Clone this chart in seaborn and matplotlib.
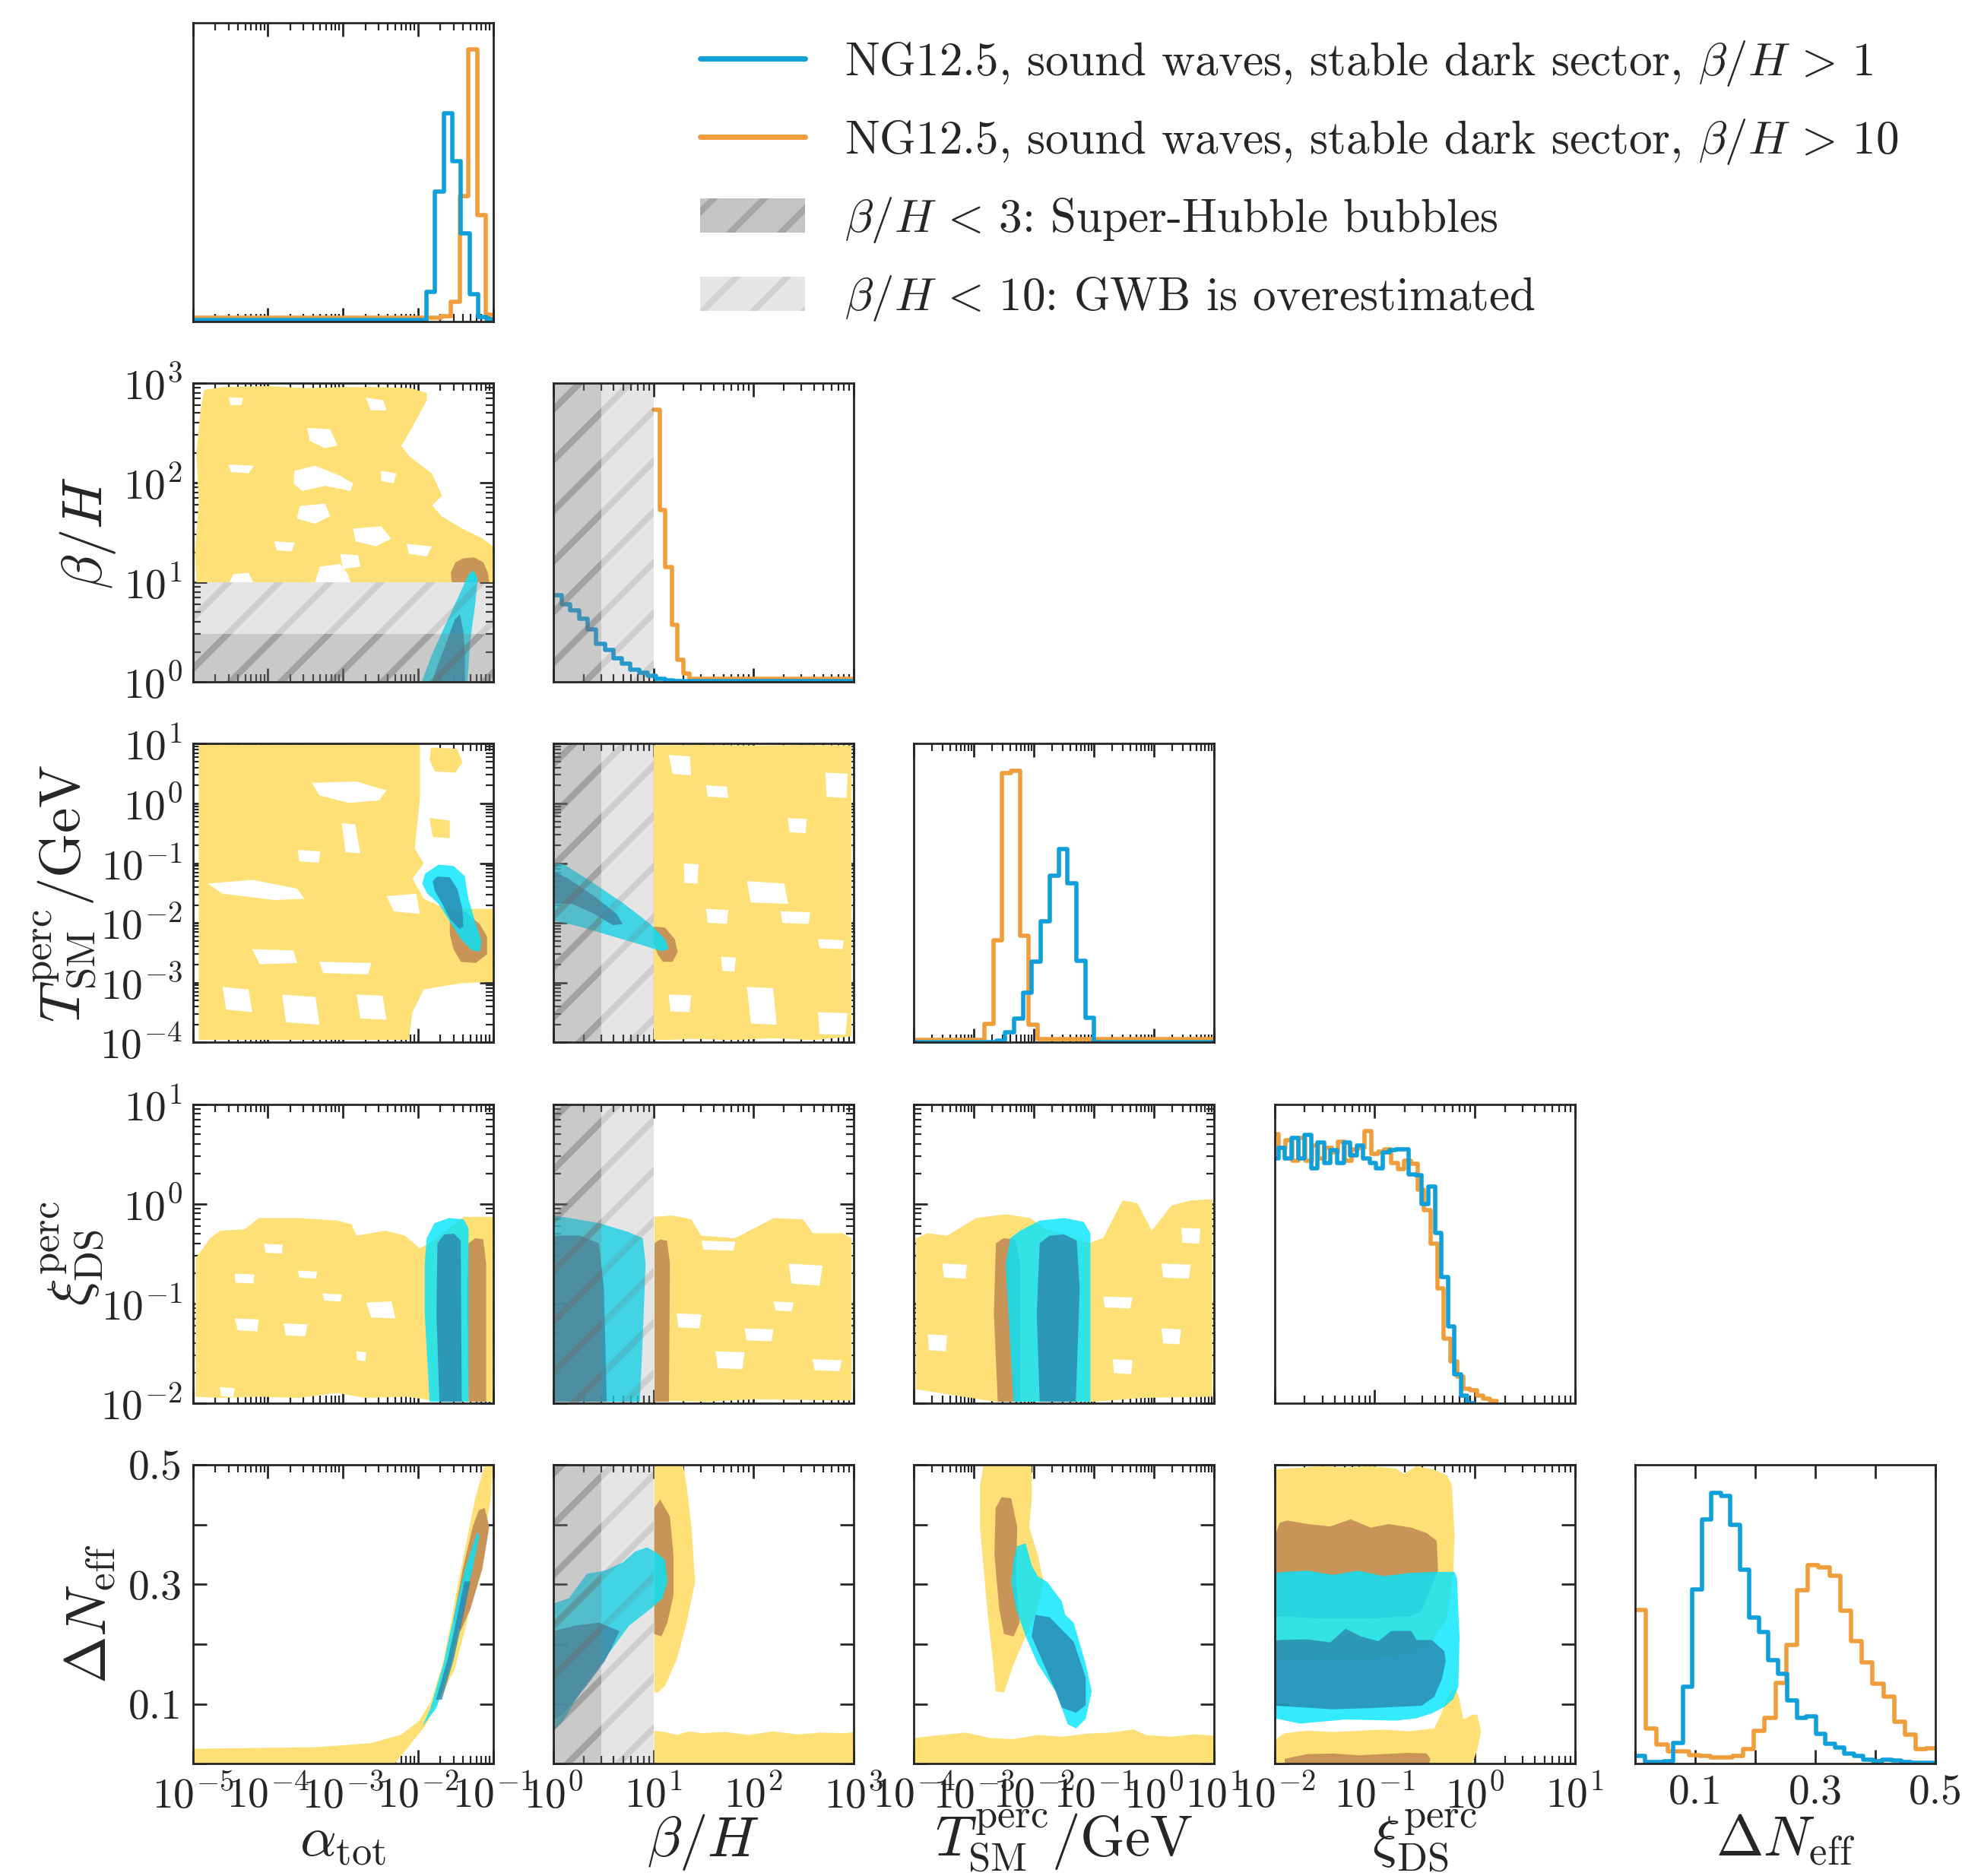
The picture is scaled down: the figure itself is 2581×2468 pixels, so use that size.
import numpy as np
import pandas as pd
import matplotlib
matplotlib.use("Agg")
import matplotlib.pyplot as plt
import seaborn as sns
from matplotlib import ticker
from matplotlib.lines import Line2D
from matplotlib.patches import Patch

# ---------------- 1D histograms (log10 edges for log axes) ----------------
alpha_edges_blue = [-5.0, -1.886, -1.771, -1.656, -1.542, -1.427, -1.312, -1.197, -1.083, -1.0]
alpha_hist_blue = [0.004, 0.099, 0.433, 0.695, 0.536, 0.293, 0.090, 0.014, 0.006]
alpha_edges_orange = [-5.0, -1.693, -1.565, -1.444, -1.326, -1.207, -1.093, -1.0]
alpha_hist_orange = [0.011, 0.017, 0.065, 0.420, 0.911, 0.354, 0.021]

beta_edges_blue = [0.0, 0.086, 0.171, 0.257, 0.343, 0.429, 0.514, 0.6, 0.686, 0.771,
                   0.857, 0.943, 1.029, 1.114, 1.2, 3.0]
beta_hist_blue = [0.29, 0.26, 0.24, 0.21, 0.175, 0.126, 0.108, 0.08, 0.06, 0.04,
                  0.03, 0.02, 0.01, 0.005, 0.002]
beta_edges_orange = [1.0, 1.061, 1.121, 1.182, 1.242, 1.303, 1.364, 3.0]
beta_hist_orange = [0.91, 0.574, 0.383, 0.19, 0.075, 0.027, 0.01]

T_edges_orange = [-4.0, -2.827, -2.679, -2.531, -2.383, -2.235, -2.087, -1.939, 1.0]
T_hist_orange = [0.008, 0.061, 0.343, 0.902, 0.910, 0.358, 0.060, 0.010]
T_edges_blue = [-4.0, -2.628, -2.48, -2.332, -2.184, -2.036, -1.888, -1.74, -1.592,
                -1.444, -1.296, -1.148, -1.0, 1.0]
T_hist_blue = [0.002, 0.006, 0.034, 0.08, 0.167, 0.27, 0.405, 0.558, 0.647, 0.532,
               0.273, 0.082, 0.002]

xi_edges_blue = [-0.659 + 0.0651 * (k - 21) for k in range(32)]
xi_hist_blue = [0.82, 0.855, 0.82, 0.888, 0.82, 0.897, 0.787, 0.871, 0.804, 0.846, 0.804,
                0.871, 0.829, 0.863, 0.82, 0.804, 0.787, 0.838, 0.846, 0.85, 0.85,
                0.766, 0.762, 0.665, 0.724, 0.569, 0.421, 0.256, 0.095, 0.025, 0.0]
xi_edges_orange = [-0.705 + 0.0659 * (k - 20) for k in range(35)]
xi_hist_orange = [0.90, 0.855, 0.88, 0.81, 0.888, 0.81, 0.862, 0.82, 0.855, 0.838, 0.876,
                  0.81, 0.85, 0.855, 0.91, 0.833, 0.842, 0.85, 0.804, 0.783,
                  0.811, 0.80, 0.715, 0.645, 0.533, 0.383, 0.216, 0.14, 0.089, 0.047,
                  0.042, 0.025, 0.015, 0.006]

dN_edges_blue = [0.01582 * k for k in range(33)]
dN_hist_blue = [0.025, 0.006, 0.006, 0.008, 0.068, 0.257, 0.582, 0.817, 0.907, 0.896,
                0.799, 0.65, 0.489, 0.441, 0.346, 0.30, 0.211, 0.152, 0.158, 0.099,
                0.066, 0.055, 0.034, 0.027, 0.014, 0.008, 0.014, 0.010, 0.006, 0.004,
                0.004, 0.004]
dN_edges_orange = [0.01797 * k for k in range(29)]
dN_hist_orange = [0.515, 0.118, 0.065, 0.042, 0.040, 0.028, 0.025, 0.021, 0.021, 0.025,
                  0.048, 0.11, 0.152, 0.27, 0.397, 0.58, 0.664, 0.658, 0.63, 0.512,
                  0.409, 0.339, 0.268, 0.225, 0.141, 0.097, 0.049, 0.052]

# ---------------- 2D credible regions (x, y), log10 for log axes ----------------
# alpha vs beta/H
alpha_beta_yellow = [(-4.95, 1.0), (-4.97, 1.3), (-4.92, 1.8), (-4.95, 2.3), (-4.9, 2.7), (-4.85, 2.93),
                     (-4.6, 2.96), (-4.0, 2.97), (-3.5, 2.95), (-3.0, 2.96), (-2.5, 2.96), (-2.1, 2.95),
                     (-1.88, 2.9), (-1.88, 2.83), (-2.08, 2.55), (-2.22, 2.37), (-2.12, 2.27), (-1.81, 2.09),
                     (-1.68, 1.87), (-1.81, 1.77), (-1.68, 1.66), (-1.41, 1.54), (-1.14, 1.44), (-1.0, 1.36),
                     (-1.0, 1.0)]
alpha_beta_holes = [
    [(-4.52, 2.86), (-4.33, 2.85), (-4.35, 2.78), (-4.50, 2.78)],
    [(-3.475, 2.55), (-3.17, 2.537), (-3.07, 2.373), (-3.24, 2.347), (-3.44, 2.42)],
    [(-2.695, 2.853), (-2.46, 2.83), (-2.42, 2.727), (-2.63, 2.727)],
    [(-3.644, 2.12), (-3.373, 2.17), (-3.034, 2.069), (-2.864, 1.993), (-2.898, 1.917), (-3.237, 1.968),
     (-3.542, 1.917), (-3.658, 1.993)],
    [(-3.576, 1.765), (-3.237, 1.79), (-3.169, 1.664), (-3.373, 1.588), (-3.61, 1.639)],
    [(-4.525, 2.183), (-4.186, 2.17), (-4.254, 2.094), (-4.492, 2.107)],
    [(-2.864, 1.538), (-2.49, 1.563), (-2.356, 1.437), (-2.559, 1.36), (-2.83, 1.411)],
    [(-3.915, 1.411), (-3.644, 1.398), (-3.678, 1.31), (-3.881, 1.322)],
    [(-3.034, 1.285), (-2.797, 1.272), (-2.763, 1.158), (-3.0, 1.133)],
    [(-2.152, 1.386), (-1.813, 1.36), (-1.881, 1.259), (-2.118, 1.285)],
    [(-2.49, 2.12), (-2.288, 2.094), (-2.322, 1.993), (-2.49, 2.018)],
    [(-3.373, 0.99), (-3.305, 1.158), (-3.034, 1.183), (-2.932, 1.082), (-2.898, 0.99)],
    [(-4.52, 0.99), (-4.458, 1.082), (-4.254, 1.095), (-4.186, 0.99)],
]
alpha_beta_brown = [(-1.55, 1.0), (-1.56, 1.1), (-1.5, 1.2), (-1.4, 1.24), (-1.25, 1.25), (-1.13, 1.2),
                    (-1.07, 1.1), (-1.05, 1.0)]
alpha_beta_cyan = [(-1.949, 0.0), (-1.915, 0.07), (-1.814, 0.273), (-1.678, 0.5), (-1.475, 0.829),
                   (-1.325, 1.082), (-1.258, 1.12), (-1.203, 1.032), (-1.237, 0.779), (-1.305, 0.4),
                   (-1.339, 0.0)]
alpha_beta_dark = [(-1.814, 0.0), (-1.746, 0.146), (-1.644, 0.349), (-1.508, 0.627), (-1.44, 0.678),
                   (-1.393, 0.5), (-1.373, 0.273), (-1.373, 0.0)]

# alpha vs T
alpha_T_yellow = [(-4.92, -3.957), (-4.92, 0.979), (-1.973, 0.987), (-1.973, 0.093), (-2.042, -0.751),
                  (-1.923, -1.004), (-2.072, -1.257), (-1.923, -1.595), (-1.625, -1.763), (-1.0, -1.763),
                  (-1.0, -2.987), (-1.427, -3.008), (-1.923, -3.113), (-2.072, -3.493), (-2.121, -3.957)]
alpha_T_extra = [
    [(-1.824, 0.937), (-1.476, 0.916), (-1.407, 0.684), (-1.506, 0.515), (-1.774, 0.536), (-1.844, 0.726)],
    [(-1.844, -0.245), (-1.576, -0.287), (-1.576, -0.582), (-1.804, -0.561)],
]
alpha_T_holes = [
    [(-3.412, 0.346), (-2.816, 0.367), (-2.419, 0.219), (-2.518, 0.051), (-2.915, 0.008), (-3.312, 0.135)],
    [(-3.015, -0.329), (-2.836, -0.35), (-2.767, -0.835), (-2.965, -0.814)],
    [(-4.801, -1.342), (-4.206, -1.278), (-3.61, -1.426), (-3.511, -1.595), (-3.908, -1.616), (-4.603, -1.511)],
    [(-2.419, -1.553), (-2.022, -1.51), (-1.973, -1.848), (-2.32, -1.806)],
    [(-4.206, -2.438), (-3.66, -2.46), (-3.61, -2.67), (-4.107, -2.692)],
    [(-3.313, -2.65), (-2.618, -2.67), (-2.667, -2.86), (-3.263, -2.839)],
    [(-4.603, -3.071), (-4.256, -3.113), (-4.206, -3.493), (-4.553, -3.451)],
    [(-3.809, -3.198), (-3.362, -3.24), (-3.313, -3.704), (-3.759, -3.662)],
    [(-2.816, -3.198), (-2.469, -3.219), (-2.419, -3.62), (-2.767, -3.599)],
    [(-3.6, -0.78), (-3.3, -0.8), (-3.32, -0.99), (-3.58, -0.97)],
]
alpha_T_brown = [(-1.575, -1.848), (-1.377, -1.806), (-1.179, -2.017), (-1.079, -2.228), (-1.079, -2.523),
                 (-1.228, -2.671), (-1.427, -2.65), (-1.526, -2.439), (-1.575, -2.186)]
alpha_T_cyan = [(-1.724, -1.025), (-1.526, -1.046), (-1.377, -1.215), (-1.327, -1.595), (-1.228, -2.017),
                (-1.149, -2.312), (-1.179, -2.481), (-1.278, -2.46), (-1.427, -2.27), (-1.575, -1.974),
                (-1.724, -1.679), (-1.873, -1.51), (-1.943, -1.342), (-1.903, -1.173)]
alpha_T_dark = [(-1.744, -1.223), (-1.575, -1.236), (-1.476, -1.426), (-1.407, -1.763), (-1.397, -2.059),
                (-1.447, -2.101), (-1.575, -1.932), (-1.675, -1.679), (-1.774, -1.468), (-1.804, -1.299)]

# beta/H vs T
beta_T_yellow = [(1.0, -3.95), (1.0, 0.975), (1.5, 0.98), (2.0, 0.97), (2.5, 0.98), (2.98, 0.97),
                 (2.98, -3.9), (2.6, -3.96), (2.2, -3.93), (1.8, -3.96), (1.4, -3.94), (1.1, -3.96)]
beta_T_holes = [
    [(1.154, 0.81), (1.362, 0.789), (1.377, 0.473), (1.191, 0.494)],
    [(1.526, 0.304), (1.734, 0.283), (1.749, 0.093), (1.541, 0.114)],
    [(1.935, -1.299), (2.308, -1.342), (2.345, -1.679), (1.973, -1.658)],
    [(1.526, -1.763), (1.749, -1.785), (1.734, -2.017), (1.541, -1.996)],
    [(2.643, -2.27), (2.903, -2.29), (2.89, -2.438), (2.66, -2.42)],
    [(1.935, -3.071), (2.196, -3.092), (2.233, -3.704), (1.973, -3.683)],
    [(1.154, -3.198), (1.377, -3.21), (1.36, -3.493), (1.17, -3.48)],
    [(2.643, -3.493), (2.94, -3.51), (2.92, -3.873), (2.66, -3.86)],
    [(2.27, -1.806), (2.568, -1.82), (2.55, -2.017), (2.29, -2.0)],
    [(2.717, 0.515), (2.94, 0.5), (2.93, 0.093), (2.73, 0.11)],
    [(2.345, -0.245), (2.531, -0.26), (2.52, -0.498), (2.36, -0.48)],
    [(1.303, -1.004), (1.452, -1.02), (1.44, -1.342), (1.31, -1.33)],
    [(1.675, -2.565), (1.824, -2.58), (1.81, -2.818), (1.69, -2.80)],
]
beta_T_brown = [(1.005, -2.059), (1.117, -2.08), (1.213, -2.27), (1.243, -2.481), (1.191, -2.65),
                (1.094, -2.65), (1.042, -2.523), (1.005, -2.354)]
beta_T_cyan = [(0.0, -0.983), (0.112, -1.025), (0.409, -1.342), (0.707, -1.679), (0.968, -2.017),
               (1.117, -2.27), (1.154, -2.439), (1.079, -2.473), (0.856, -2.354), (0.558, -2.207),
               (0.261, -2.059), (0.037, -1.974), (0.0, -1.974)]
beta_T_dark = [(0.0, -1.131), (0.149, -1.257), (0.409, -1.553), (0.633, -1.848), (0.692, -2.017),
               (0.596, -2.038), (0.409, -1.848), (0.186, -1.679), (0.0, -1.679)]

# alpha vs xi
alpha_xi_yellow = [(-4.961, -1.936), (-4.961, -0.547), (-4.766, -0.344), (-4.636, -0.269), (-4.312, -0.256),
                   (-4.117, -0.142), (-3.597, -0.142), (-3.078, -0.167), (-2.883, -0.205), (-2.818, -0.319),
                   (-2.429, -0.269), (-2.169, -0.319), (-1.974, -0.446), (-1.844, -0.395), (-1.39, -0.13),
                   (-1.0, -0.13), (-1.0, -1.987), (-1.649, -1.987), (-2.169, -1.936), (-2.688, -1.949),
                   (-3.078, -1.899), (-3.597, -1.949), (-4.117, -1.936), (-4.636, -1.949)]
alpha_xi_holes = [
    [(-4.44, -0.70), (-4.18, -0.71), (-4.19, -0.80), (-4.43, -0.79)],
    [(-2.69, -0.99), (-2.35, -0.98), (-2.30, -1.15), (-2.62, -1.14)],
    [(-4.44, -1.15), (-4.12, -1.16), (-4.14, -1.28), (-4.40, -1.27)],
    [(-3.79, -1.20), (-3.47, -1.21), (-3.50, -1.33), (-3.76, -1.32)],
    [(-4.05, -0.40), (-3.80, -0.41), (-3.81, -0.50), (-4.03, -0.49)],
    [(-3.60, -0.67), (-3.34, -0.68), (-3.36, -0.75), (-3.58, -0.74)],
    [(-2.82, -1.48), (-2.69, -1.49), (-2.70, -1.58), (-2.81, -1.57)],
    [(-4.64, -1.84), (-4.44, -1.85), (-4.46, -1.94), (-4.62, -1.93)],
    [(-3.27, -0.90), (-3.01, -0.91), (-3.03, -0.98), (-3.25, -0.97)],
]
alpha_xi_brown = [(-1.325, -0.395), (-1.234, -0.344), (-1.13, -0.357), (-1.091, -0.597), (-1.091, -1.987),
                  (-1.325, -1.987), (-1.351, -0.85)]
alpha_xi_cyan = [(-1.883, -0.344), (-1.779, -0.193), (-1.584, -0.142), (-1.39, -0.155), (-1.325, -0.243),
                 (-1.325, -1.987), (-1.844, -1.987), (-1.909, -1.103), (-1.909, -0.597)]
alpha_xi_dark = [(-1.74, -0.395), (-1.649, -0.306), (-1.519, -0.299), (-1.429, -0.37), (-1.416, -1.987),
                 (-1.714, -1.987), (-1.753, -1.103)]

# beta/H vs xi
beta_xi_yellow = [(1.01, -1.974), (1.01, -0.13), (1.184, -0.117), (1.379, -0.155), (1.476, -0.319),
                  (1.816, -0.344), (2.01, -0.243), (2.204, -0.142), (2.495, -0.155), (2.592, -0.294),
                  (2.884, -0.294), (2.981, -0.344), (2.981, -1.974), (2.01, -1.962), (1.524, -1.987)]
beta_xi_holes = [
    [(1.48, -0.37), (1.82, -0.38), (1.80, -0.47), (1.50, -0.46)],
    [(2.35, -0.60), (2.69, -0.62), (2.66, -0.82), (2.38, -0.80)],
    [(1.23, -1.10), (1.48, -1.11), (1.46, -1.25), (1.25, -1.24)],
    [(1.91, -1.25), (2.20, -1.26), (2.18, -1.38), (1.93, -1.37)],
    [(1.62, -1.48), (1.91, -1.49), (1.89, -1.66), (1.64, -1.65)],
    [(2.59, -1.56), (2.88, -1.57), (2.86, -1.68), (2.61, -1.67)],
    [(2.20, -0.98), (2.40, -0.99), (2.38, -1.08), (2.22, -1.07)],
]
beta_xi_brown = [(1.01, -0.395), (1.068, -0.357), (1.136, -0.37), (1.165, -0.597), (1.155, -1.987),
                 (1.01, -1.987)]
beta_xi_cyan = [(0.0, -0.117), (0.165, -0.142), (0.456, -0.193), (0.748, -0.281), (0.893, -0.344),
                (0.922, -0.597), (0.893, -1.355), (0.864, -1.987), (0.0, -1.987)]
beta_xi_dark = [(0.0, -0.319), (0.262, -0.319), (0.456, -0.395), (0.505, -0.85), (0.534, -1.987),
                (0.0, -1.987)]

# T vs xi
T_xi_yellow = [(-3.968, -1.861), (-3.968, -0.344), (-3.773, -0.294), (-3.448, -0.319), (-2.961, -0.142),
               (-2.474, -0.104), (-2.068, -0.142), (-1.825, -0.243), (-1.094, -0.395), (-0.851, -0.344),
               (-0.526, 0.035), (-0.282, 0.009), (-0.039, -0.269), (0.286, -0.016), (0.611, 0.035),
               (0.968, 0.047), (0.968, -1.936), (-0.201, -1.949), (-1.013, -1.987), (-2.636, -1.987),
               (-3.448, -1.911)]
T_xi_holes = [
    [(-3.53, -0.60), (-3.12, -0.61), (-3.14, -0.75), (-3.50, -0.74)],
    [(-0.85, -0.93), (-0.36, -0.94), (-0.40, -1.05), (-0.82, -1.04)],
    [(0.12, -1.25), (0.45, -1.26), (0.42, -1.41), (0.15, -1.40)],
    [(0.12, -0.60), (0.61, -0.61), (0.58, -0.75), (0.15, -0.74)],
    [(-3.77, -1.31), (-3.45, -1.32), (-3.47, -1.48), (-3.75, -1.47)],
    [(-0.69, -1.56), (-0.36, -1.57), (-0.38, -1.71), (-0.67, -1.70)],
    [(0.45, -0.24), (0.77, -0.25), (0.75, -0.40), (0.47, -0.39)],
]
T_xi_brown = [(-2.636, -0.395), (-2.506, -0.344), (-2.312, -0.357), (-2.231, -0.597), (-2.231, -1.987),
              (-2.604, -1.987), (-2.669, -1.103)]
T_xi_cyan = [(-2.393, -0.344), (-2.231, -0.269), (-1.906, -0.168), (-1.5, -0.142), (-1.175, -0.18),
             (-1.062, -0.294), (-1.062, -1.987), (-2.344, -1.987), (-2.425, -1.103), (-2.474, -0.597)]
T_xi_dark = [(-1.906, -0.395), (-1.743, -0.319), (-1.5, -0.306), (-1.289, -0.37), (-1.24, -0.85),
             (-1.305, -1.987), (-1.906, -1.987), (-1.955, -1.103)]

# alpha vs Delta N_eff
alpha_dN_yellow = [(-5.0, 0.0), (-5.0, 0.025), (-4.95, 0.025), (-3.35, 0.0275), (-2.63, 0.0343),
                   (-2.23, 0.048), (-1.99, 0.071), (-1.83, 0.103), (-1.67, 0.167), (-1.56, 0.236),
                   (-1.46, 0.305), (-1.35, 0.373), (-1.24, 0.442), (-1.11, 0.5), (-1.0, 0.5),
                   (-1.03, 0.442), (-1.19, 0.327), (-1.35, 0.236), (-1.51, 0.158), (-1.75, 0.0985),
                   (-1.91, 0.062), (-2.31, 0.0)]
alpha_dN_brown = [(-1.11, 0.428), (-1.05, 0.396), (-1.14, 0.327), (-1.30, 0.259), (-1.43, 0.222),
                  (-1.53, 0.24), (-1.40, 0.327), (-1.27, 0.396), (-1.19, 0.424)]
alpha_dN_cyan = [(-1.94, 0.062), (-1.75, 0.094), (-1.56, 0.167), (-1.40, 0.259), (-1.27, 0.327),
                 (-1.18, 0.382), (-1.21, 0.387), (-1.37, 0.327), (-1.50, 0.259), (-1.66, 0.167),
                 (-1.83, 0.094)]
alpha_dN_dark = [(-1.76, 0.107), (-1.60, 0.176), (-1.47, 0.25), (-1.38, 0.305), (-1.30, 0.305),
                 (-1.39, 0.25), (-1.52, 0.176), (-1.68, 0.107)]

# beta/H vs Delta N_eff
beta_dN_yellow = [(1.008, 0.5), (1.296, 0.5), (1.332, 0.465), (1.38, 0.396), (1.416, 0.304), (1.332, 0.236),
                  (1.236, 0.176), (1.116, 0.13), (1.044, 0.119), (1.008, 0.119)]
beta_dN_yellow_low = [(1.008, 0.0), (1.008, 0.055), (1.116, 0.053), (1.236, 0.048), (1.356, 0.054),
                      (1.476, 0.051), (1.716, 0.053), (1.956, 0.048), (2.196, 0.054), (2.436, 0.049),
                      (2.676, 0.052), (2.916, 0.051), (3.0, 0.053), (3.0, 0.0)]
beta_dN_brown = [(1.008, 0.428), (1.068, 0.442), (1.164, 0.414), (1.2, 0.35), (1.2, 0.282), (1.14, 0.236),
                 (1.08, 0.213), (1.008, 0.217)]
beta_dN_cyan = [(0.0, 0.268), (0.156, 0.277), (0.336, 0.318), (0.516, 0.323), (0.696, 0.337), (0.816, 0.355),
                (0.936, 0.362), (1.032, 0.353), (1.116, 0.341), (1.14, 0.305), (1.092, 0.277),
                (0.972, 0.259), (0.756, 0.231), (0.516, 0.176), (0.276, 0.121), (0.096, 0.071), (0.0, 0.055)]
beta_dN_dark = [(0.0, 0.222), (0.216, 0.231), (0.456, 0.236), (0.66, 0.222), (0.612, 0.204), (0.516, 0.172),
                (0.336, 0.131), (0.156, 0.094), (0.036, 0.075), (0.0, 0.073)]

# T vs Delta N_eff
T_dN_yellow = [(-2.84, 0.5), (-2.04, 0.5), (-2.04, 0.442), (-2.08, 0.396), (-1.94, 0.35), (-1.84, 0.304),
               (-1.94, 0.259), (-2.14, 0.213), (-2.34, 0.167), (-2.5, 0.119), (-2.64, 0.121), (-2.68, 0.167),
               (-2.78, 0.259), (-2.9, 0.396), (-2.9, 0.465)]
T_dN_yellow_low = [(-4.0, 0.0), (-4.0, 0.043), (-3.54, 0.048), (-3.14, 0.052), (-2.74, 0.043), (-2.34, 0.041),
                   (-1.94, 0.048), (-1.54, 0.045), (-1.14, 0.05), (-0.74, 0.052), (-0.34, 0.057),
                   (-0.14, 0.048), (0.26, 0.045), (0.66, 0.049), (1.0, 0.047), (1.0, 0.0)]
T_dN_brown = [(-2.64, 0.428), (-2.54, 0.446), (-2.38, 0.444), (-2.28, 0.396), (-2.30, 0.304), (-2.24, 0.236),
              (-2.34, 0.213), (-2.50, 0.217), (-2.58, 0.259), (-2.66, 0.35)]
T_dN_cyan = [(-2.28, 0.364), (-2.14, 0.369), (-2.04, 0.332), (-1.94, 0.314), (-1.78, 0.304), (-1.54, 0.272),
             (-1.48, 0.249), (-1.34, 0.236), (-1.14, 0.167), (-1.04, 0.121), (-1.14, 0.075), (-1.3, 0.059),
             (-1.44, 0.066), (-1.64, 0.121), (-1.94, 0.167), (-2.14, 0.213), (-2.3, 0.259), (-2.38, 0.304),
             (-2.34, 0.341)]
T_dN_dark = [(-1.98, 0.249), (-1.74, 0.245), (-1.34, 0.204), (-1.14, 0.144), (-1.14, 0.098), (-1.30, 0.085),
             (-1.54, 0.094), (-1.64, 0.121), (-1.84, 0.167), (-2.04, 0.213)]

# xi vs Delta N_eff
xi_dN_yellow = [(-1.995, 0.492), (-1.899, 0.494), (-1.696, 0.496), (-1.544, 0.498), (-1.291, 0.496),
                (-1.038, 0.498), (-0.785, 0.494), (-0.709, 0.485), (-0.582, 0.498), (-0.405, 0.492),
                (-0.278, 0.483), (-0.228, 0.466), (-0.202, 0.382), (-0.215, 0.319), (-0.278, 0.243),
                (-0.43, 0.205), (-0.633, 0.184), (-1.038, 0.175), (-1.544, 0.175), (-1.995, 0.171)]
xi_dN_yellow_low = [(-1.995, 0.0), (-1.995, 0.04), (-1.899, 0.051), (-1.671, 0.055), (-1.418, 0.053),
                    (-1.164, 0.055), (-0.911, 0.057), (-0.658, 0.054), (-0.405, 0.059), (-0.329, 0.086),
                    (-0.278, 0.111), (-0.19, 0.128), (-0.152, 0.107), (-0.114, 0.074), (-0.025, 0.082),
                    (0.025, 0.082), (0.064, 0.053), (0.025, 0.023), (-0.025, 0.0)]
xi_dN_brown = [(-1.995, 0.382), (-1.949, 0.403), (-1.873, 0.407), (-1.671, 0.401), (-1.443, 0.397),
               (-1.24, 0.409), (-1.038, 0.395), (-0.861, 0.401), (-0.633, 0.395), (-0.481, 0.386),
               (-0.38, 0.373), (-0.367, 0.323), (-0.43, 0.297), (-0.531, 0.255), (-0.633, 0.247),
               (-1.038, 0.243), (-1.544, 0.243), (-1.995, 0.247)]
xi_dN_brown_low = [(-1.899, 0.0), (-1.899, 0.008), (-1.671, 0.016), (-1.418, 0.017), (-1.164, 0.014),
                   (-0.911, 0.016), (-0.658, 0.018), (-0.481, 0.017), (-0.443, 0.008), (-0.456, 0.0)]
xi_dN_cyan = [(-2.0, 0.319), (-1.899, 0.321), (-1.671, 0.323), (-1.418, 0.316), (-1.164, 0.323),
              (-0.911, 0.314), (-0.658, 0.319), (-0.405, 0.321), (-0.202, 0.321), (-0.177, 0.31),
              (-0.164, 0.255), (-0.152, 0.213), (-0.164, 0.129), (-0.215, 0.108), (-0.304, 0.095),
              (-0.43, 0.084), (-0.582, 0.076), (-0.785, 0.072), (-1.291, 0.074), (-1.747, 0.067), (-2.0, 0.076)]
xi_dN_dark = [(-2.0, 0.205), (-1.949, 0.207), (-1.671, 0.208), (-1.443, 0.203), (-1.291, 0.226),
              (-1.139, 0.213), (-0.962, 0.205), (-0.835, 0.222), (-0.633, 0.222), (-0.582, 0.207),
              (-0.43, 0.207), (-0.304, 0.188), (-0.291, 0.171), (-0.329, 0.141), (-0.405, 0.112),
              (-0.531, 0.097), (-1.038, 0.093), (-1.418, 0.091), (-2.0, 0.097)]

# ---------------- styling ----------------
sns.set_style("ticks")
plt.rcParams.update({
    "font.family": "serif",
    "font.serif": ["cmr10"],
    "mathtext.fontset": "cm",
    "axes.formatter.use_mathtext": True,
    "axes.unicode_minus": False,
    "hatch.linewidth": 3.0,
    "axes.linewidth": 1.0,
})

BLUE = "#0fa0dc"
ORANGE = "#f09e3c"
YELLOW = "#fee076"
BROWN = "#c89458"
CYAN = "#00e5ff"
DARK = "#2a7fa8"

PARAMS = ["alpha", "beta", "T", "xi", "dN"]
LOG = {"alpha": True, "beta": True, "T": True, "xi": True, "dN": False}
LIMS = {"alpha": (1e-5, 1e-1), "beta": (1, 1e3), "T": (1e-4, 1e1), "xi": (1e-2, 1e1), "dN": (0, 0.5)}
LABELS = {"alpha": r"$\alpha_{\rm tot}$", "beta": r"$\beta/H$",
          "T": r"$T_{\rm SM}^{\rm perc}/{\rm GeV}$", "xi": r"$\xi_{\rm DS}^{\rm perc}$",
          "dN": r"$\Delta N_{\rm eff}$"}
YLAB_X = {1: -0.35, 2: -0.425, 3: -0.40, 4: -0.34}

hists = {
    "alpha": (alpha_edges_orange, alpha_hist_orange, alpha_edges_blue, alpha_hist_blue),
    "beta": (beta_edges_orange, beta_hist_orange, beta_edges_blue, beta_hist_blue),
    "T": (T_edges_orange, T_hist_orange, T_edges_blue, T_hist_blue),
    "xi": (xi_edges_orange, xi_hist_orange, xi_edges_blue, xi_hist_blue),
    "dN": (dN_edges_orange, dN_hist_orange, dN_edges_blue, dN_hist_blue),
}

contours = {
    (1, 0): dict(yellow=[alpha_beta_yellow], holes=alpha_beta_holes, brown=[alpha_beta_brown],
                 cyan=[alpha_beta_cyan], dark=[alpha_beta_dark]),
    (2, 0): dict(yellow=[alpha_T_yellow] + alpha_T_extra, holes=alpha_T_holes, brown=[alpha_T_brown],
                 cyan=[alpha_T_cyan], dark=[alpha_T_dark]),
    (2, 1): dict(yellow=[beta_T_yellow], holes=beta_T_holes, brown=[beta_T_brown],
                 cyan=[beta_T_cyan], dark=[beta_T_dark]),
    (3, 0): dict(yellow=[alpha_xi_yellow], holes=alpha_xi_holes, brown=[alpha_xi_brown],
                 cyan=[alpha_xi_cyan], dark=[alpha_xi_dark]),
    (3, 1): dict(yellow=[beta_xi_yellow], holes=beta_xi_holes, brown=[beta_xi_brown],
                 cyan=[beta_xi_cyan], dark=[beta_xi_dark]),
    (3, 2): dict(yellow=[T_xi_yellow], holes=T_xi_holes, brown=[T_xi_brown],
                 cyan=[T_xi_cyan], dark=[T_xi_dark]),
    (4, 0): dict(yellow=[alpha_dN_yellow], holes=[], brown=[alpha_dN_brown],
                 cyan=[alpha_dN_cyan], dark=[alpha_dN_dark]),
    (4, 1): dict(yellow=[beta_dN_yellow, beta_dN_yellow_low], holes=[], brown=[beta_dN_brown],
                 cyan=[beta_dN_cyan], dark=[beta_dN_dark]),
    (4, 2): dict(yellow=[T_dN_yellow, T_dN_yellow_low], holes=[], brown=[T_dN_brown],
                 cyan=[T_dN_cyan], dark=[T_dN_dark]),
    (4, 3): dict(yellow=[xi_dN_yellow, xi_dN_yellow_low], holes=[], brown=[xi_dN_brown, xi_dN_brown_low],
                 cyan=[xi_dN_cyan], dark=[xi_dN_dark]),
}


def lin(v, is_log):
    v = np.asarray(v, dtype=float)
    return 10.0 ** v if is_log else v


def fill_region(ax, pts, xp, yp, color, alpha=1.0, z=1.0):
    pts = np.asarray(pts, dtype=float)
    ax.fill(lin(pts[:, 0], LOG[xp]), lin(pts[:, 1], LOG[yp]), color=color, alpha=alpha, lw=0, zorder=z)


def draw_hist(ax, p, edges, heights, color):
    edges = [float(e) for e in edges]
    mids = [0.5 * (a + b) for a, b in zip(edges[:-1], edges[1:])]
    frame = pd.DataFrame({"value": lin(mids, LOG[p]), "w": heights})
    sns.histplot(data=frame, x="value", weights="w", bins=edges, element="step", fill=False,
                 color=color, linewidth=2.0, log_scale=LOG[p], ax=ax, zorder=3)


def style_axis(axis, p):
    if LOG[p]:
        axis.set_major_locator(ticker.LogLocator(base=10, numticks=20))
        axis.set_minor_locator(ticker.LogLocator(base=10, subs=np.arange(2, 10), numticks=20))
        axis.set_major_formatter(ticker.LogFormatterSciNotation())
        axis.set_minor_formatter(ticker.NullFormatter())
    else:
        axis.set_major_locator(ticker.MultipleLocator(0.1))
        axis.set_major_formatter(ticker.FuncFormatter(
            lambda v, pos: f"{v:.1f}" if int(round(v * 10)) % 2 == 1 else ""))
        axis.set_minor_locator(ticker.NullLocator())


def shade_beta(ax, vertical):
    span = ax.axvspan if vertical else ax.axhspan
    span(1, 10, facecolor="0.5", edgecolor="0.45", hatch="/", alpha=0.2, lw=0, zorder=5)
    span(1, 3, facecolor="0.5", edgecolor="0.4", hatch="/", alpha=0.27, lw=0, zorder=5)


W, H = 2581, 2468
fig = plt.figure(figsize=(W / 200, H / 200), dpi=200)
axes = {}
for r in range(5):
    for c in range(r + 1):
        left = 253.5 + 474.4 * c
        top = 29.6 + 474.4 * r
        ax = fig.add_axes([left / W, 1 - (top + 393) / H, 395 / W, 393 / H])
        axes[(r, c)] = ax
        xp = PARAMS[c]
        yp = PARAMS[r]
        if r == c:
            e_o, h_o, e_b, h_b = hists[xp]
            draw_hist(ax, xp, e_o, h_o, ORANGE)
            draw_hist(ax, xp, e_b, h_b, BLUE)
            if LOG[xp]:
                ax.set_xscale("log")
            ax.set_ylim(0, 1.0)
            ax.set_yticks([])
            if xp == "beta":
                shade_beta(ax, True)
        else:
            if LOG[xp]:
                ax.set_xscale("log")
            if LOG[yp]:
                ax.set_yscale("log")
            layers = contours[(r, c)]
            for poly in layers["yellow"]:
                fill_region(ax, poly, xp, yp, YELLOW, 1.0, 1.0)
            for poly in layers["holes"]:
                fill_region(ax, poly, xp, yp, "white", 1.0, 1.1)
            for poly in layers["brown"]:
                fill_region(ax, poly, xp, yp, BROWN, 1.0, 1.2)
            for poly in layers["cyan"]:
                fill_region(ax, poly, xp, yp, CYAN, 0.8, 1.3)
            for poly in layers["dark"]:
                fill_region(ax, poly, xp, yp, DARK, 0.75, 1.4)
            if xp == "beta":
                shade_beta(ax, True)
            if yp == "beta":
                shade_beta(ax, False)
            ax.set_ylim(*LIMS[yp])
            style_axis(ax.yaxis, yp)
        ax.set_xlim(*LIMS[xp])
        style_axis(ax.xaxis, xp)
        ax.set_xlabel("")
        ax.set_ylabel("")
        ax.tick_params(which="both", direction="in", top=True, right=True, labelsize=20,
                       width=1.0, pad=5)
        ax.tick_params(which="major", length=6.5)
        ax.tick_params(which="minor", length=3.5, width=0.8)
        if r == c:
            ax.tick_params(axis="y", which="both", left=False, right=False, labelleft=False)
        ax.tick_params(labelbottom=(r == 4), labelleft=(c == 0 and r > 0))
        for s in ax.spines.values():
            s.set_linewidth(1.0)
            s.set_zorder(6)

for c in range(5):
    ax = axes[(4, c)]
    ax.set_xlabel(LABELS[PARAMS[c]], fontsize=27)
    ax.xaxis.label.set_verticalalignment("baseline")
    ax.xaxis.set_label_coords(0.5, -0.31)
for r in range(1, 5):
    ax = axes[(r, 0)]
    ax.set_ylabel(LABELS[PARAMS[r]], fontsize=27)
    ax.yaxis.label.set_verticalalignment("center")
    ax.yaxis.set_label_coords(YLAB_X[r], 0.5)

handles = [
    Line2D([], [], color=BLUE, lw=2.5),
    Line2D([], [], color=ORANGE, lw=2.5),
    Patch(facecolor="#c4c4c4", edgecolor="#a6a6a6", hatch="/", lw=0),
    Patch(facecolor="#e6e6e6", edgecolor="#d2d2d2", hatch="/", lw=0),
]
labels = [
    r"NG12.5, sound waves, stable dark sector, $\beta/H \,>\, 1$",
    r"NG12.5, sound waves, stable dark sector, $\beta/H \,>\, 10$",
    r"$\beta/H \,<\, 3$: Super-Hubble bubbles",
    r"$\beta/H \,<\, 10$: GWB is overestimated",
]
fig.legend(handles, labels, loc="center left", bbox_to_anchor=(0.357, 0.9036), frameon=False,
           fontsize=22, handlelength=2.25, handleheight=0.75, handletextpad=0.85, labelspacing=0.62,
           borderpad=0, borderaxespad=0)

fig.savefig("out.png", dpi=200)
